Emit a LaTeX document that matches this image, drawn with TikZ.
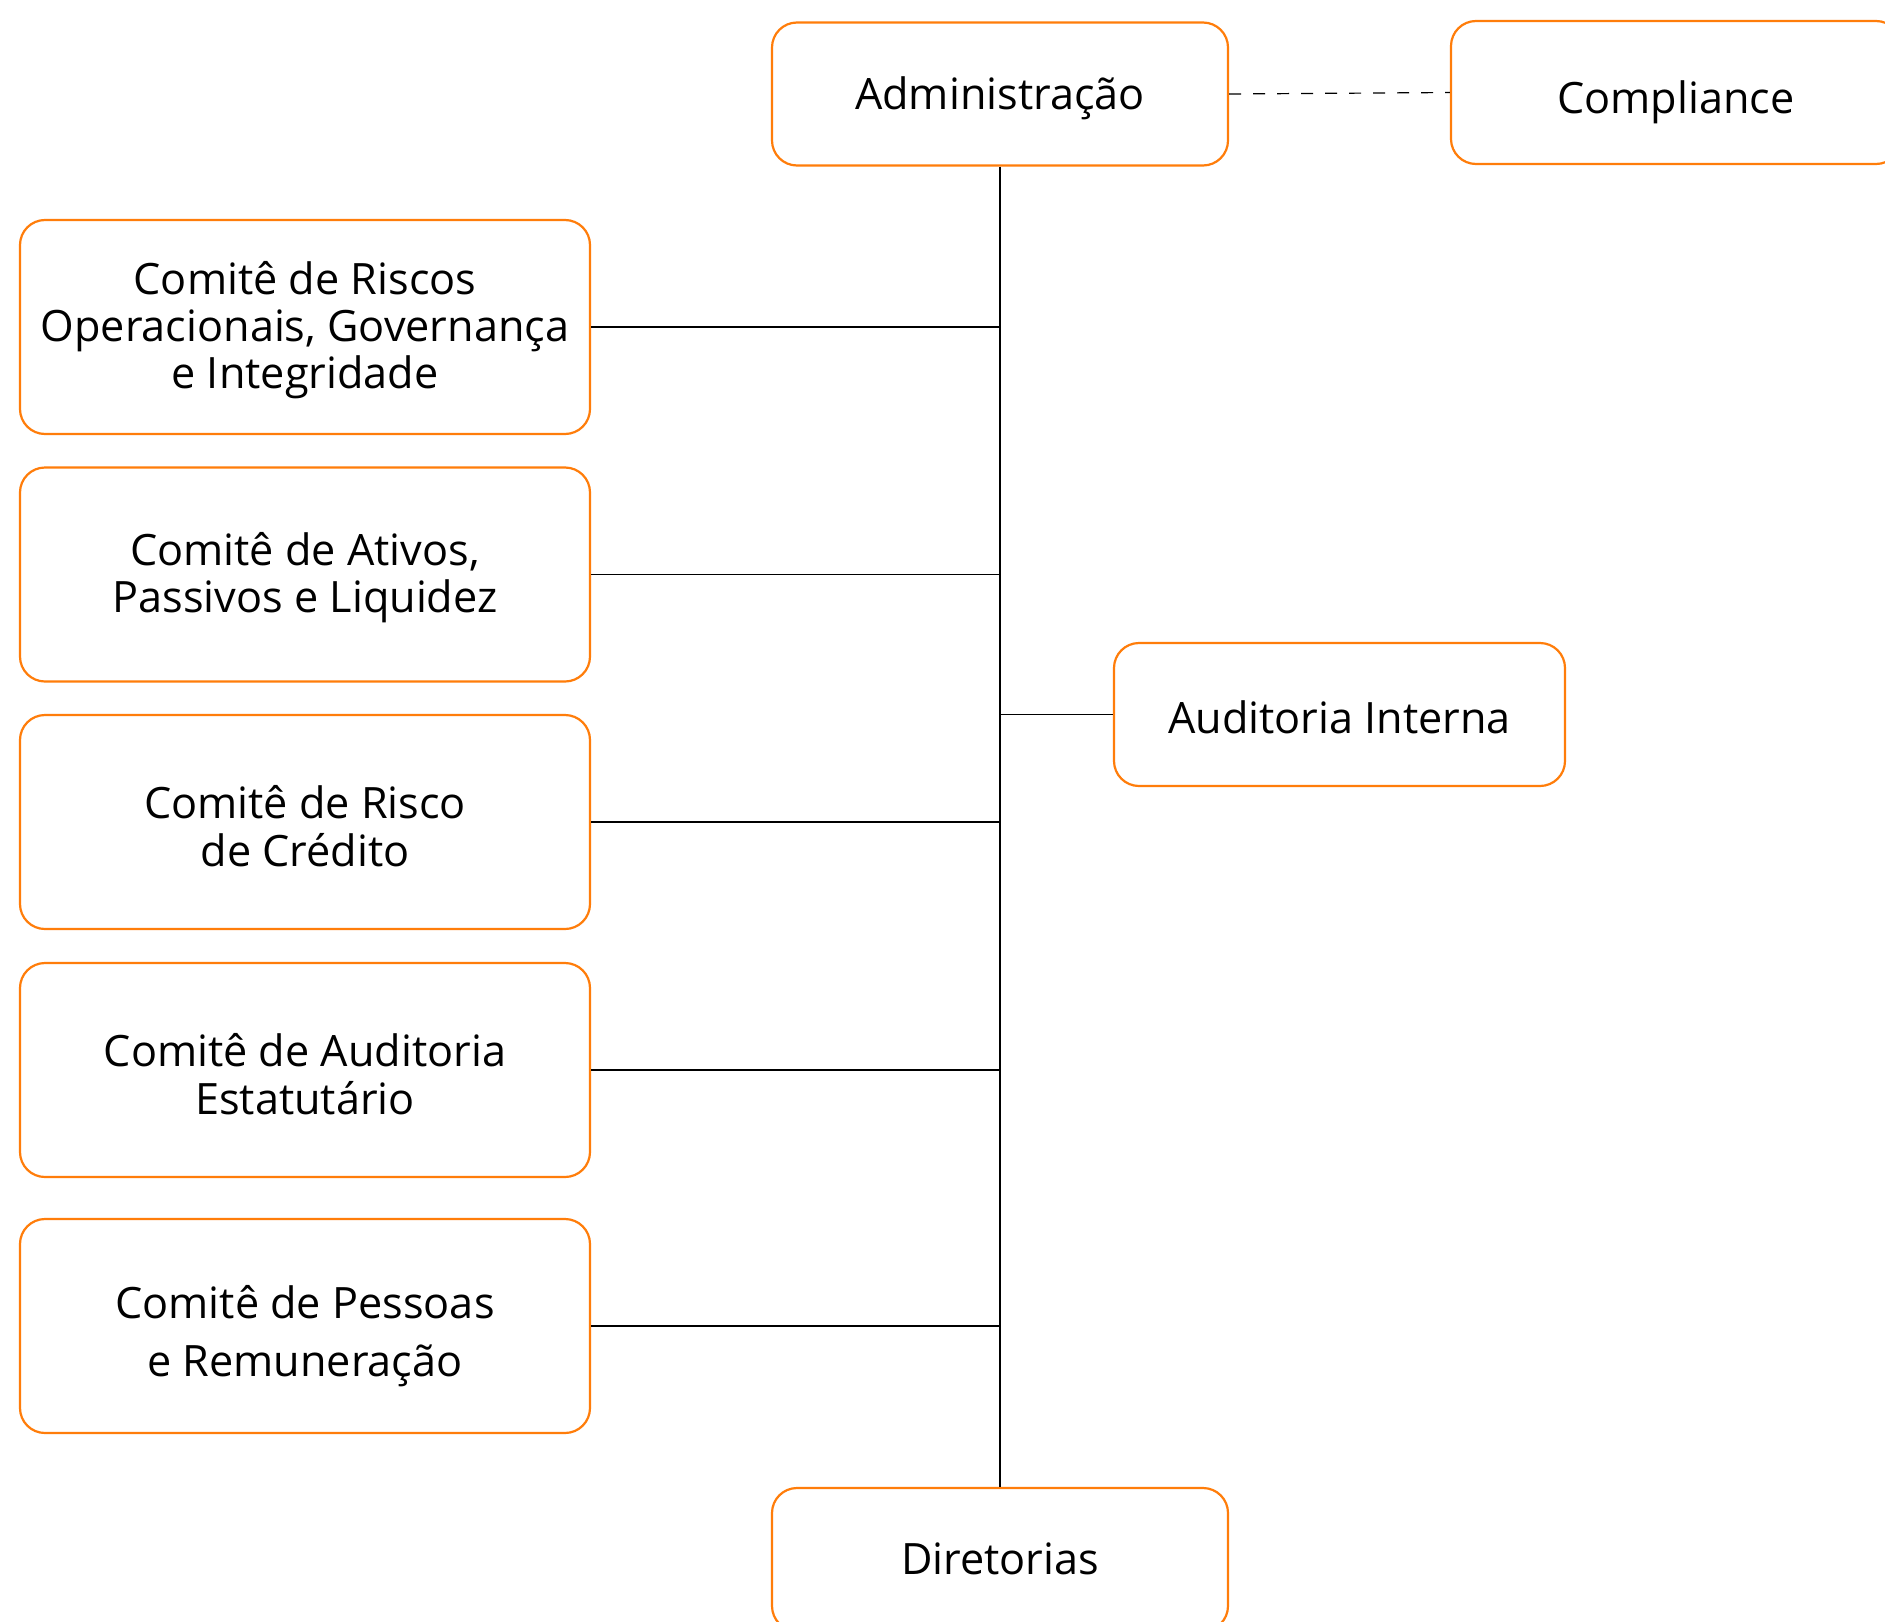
\documentclass[tikz,border=0pt]{standalone}
\usepackage{fontspec}
\setmainfont{Open Sans}
\definecolor{orng}{RGB}{255,125,10}
\newcommand{\tx}[2][2.5pt]{\raisebox{-#1}[\height][\depth]{\begin{tabular}{@{}c@{}}#2\end{tabular}}}
\begin{document}
\begin{tikzpicture}[x=0.5pt,y=-0.5pt,
  box/.style={draw=orng, line width=1.1pt, rounded corners=12.5pt, fill=white,
    align=center, inner sep=0pt, font=\fontsize{21.6}{23.5}\selectfont},
  cbox/.style={box, minimum width=285pt, minimum height=107pt},
  abox/.style={box, minimum width=225.5pt, minimum height=71.5pt},
  link/.style={line width=0.8pt, black}]
\useasboundingbox (0,0) rectangle (1885,1622);
\fill[white] (0,0) rectangle (1885,1622);
\node[box, minimum width=228pt, minimum height=71.5pt] (adm) at (1000,94) {\tx[3pt]{Administração}};
\node[box, minimum width=225pt, minimum height=71.5pt] (comp) at (1676,92.5) {\tx[6pt]{Compliance}};
\node[box, minimum width=228pt, minimum height=71.5pt] (dir) at (1000,1559.5) {\tx[3pt]{Diretorias}};
\node[abox] (aud) at (1339.5,714.5) {\tx[5pt]{Auditoria Interna}};
\node[cbox] (c1) at (305,327) {\tx{Comitê de Riscos\\Operacionais, Governança\\e Integridade}};
\node[cbox] (c2) at (305,574.5) {\tx{Comitê de Ativos,\\Passivos e Liquidez}};
\node[cbox] (c3) at (305,822) {\tx[5.5pt]{Comitê de Risco\\de Crédito}};
\node[cbox] (c4) at (305,1070) {\tx[5.5pt]{Comitê de Auditoria\\Estatutário}};
\node[cbox, font=\fontsize{21.6}{29}\selectfont] (c5) at (305,1326) {\tx[5pt]{Comitê de Pessoas\\e Remuneração}};
\coordinate (j1) at (1000,327);
\coordinate (j2) at (1000,574.5);
\coordinate (j3) at (1000,822);
\coordinate (j4) at (1000,1070);
\coordinate (j5) at (1000,1326);
\coordinate (ja) at (1000,714.5);
\draw[link] (adm.south) -- (dir.north);
\draw[link] (c1.east) -- (j1);
\draw[link] (c2.east) -- (j2);
\draw[link] (c3.east) -- (j3);
\draw[link] (c4.east) -- (j4);
\draw[link] (c5.east) -- (j5);
\draw[link] (ja) -- (aud.west);
\draw[line width=0.6pt, dash pattern=on 6pt off 6pt] (adm.east) -- (comp.west);
\end{tikzpicture}
\end{document}
